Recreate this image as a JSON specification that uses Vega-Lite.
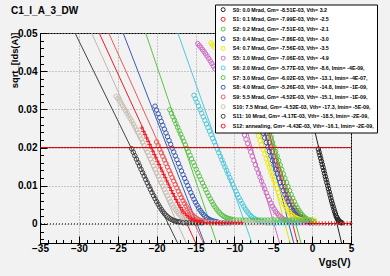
{
"$schema":"https://vega.github.io/schema/vega-lite/v6.json",
"width":311,"height":210,
"autosize":{"type":"none"},
"padding":{"left":40,"top":33,"right":39,"bottom":33},
"background":"#f2f2f2",
"title":{"text":"C1_I_A_3_DW","anchor":"start","frame":"group","dx":-29,"dy":33,"offset":13,"fontSize":10,"font":"Liberation Sans","fontWeight":"bold","color":"#000000","baseline":"alphabetic"},
"config":{"view":{"stroke":"#000000","strokeWidth":1}},
"datasets":{
"fits":[
{"k":"S0","v":-3.85,"y":0.06},{"k":"S0","v":3.905,"y":-0.006},
{"k":"S1","v":-10.009,"y":0.06},{"k":"S1","v":-1.749,"y":-0.006},
{"k":"S2","v":-10.089,"y":0.06},{"k":"S2","v":-1.301,"y":-0.006},
{"k":"S3","v":-10.634,"y":0.06},{"k":"S3","v":-2.237,"y":-0.006},
{"k":"S4","v":-11.437,"y":0.06},{"k":"S4","v":-2.706,"y":-0.006},
{"k":"S5","v":-13.399,"y":0.06},{"k":"S5","v":-4.05,"y":-0.006},
{"k":"S6","v":-18.999,"y":0.06},{"k":"S6","v":-7.56,"y":-0.006},
{"k":"S7","v":-23.067,"y":0.06},{"k":"S7","v":-12.103,"y":-0.006},
{"k":"S8","v":-26.207,"y":0.06},{"k":"S8","v":-13.659,"y":-0.006},
{"k":"S9","v":-28.374,"y":0.06},{"k":"S9","v":-13.773,"y":-0.006},
{"k":"S10","v":-30.574,"y":0.06},{"k":"S10","v":-15.973,"y":-0.006},
{"k":"S11","v":-32.888,"y":0.06},{"k":"S11","v":-17.061,"y":-0.006},
{"k":"S12","v":-29.644,"y":0.06},{"k":"S12","v":-14.746,"y":-0.006}
],
"pts":[
{"k":"S0","v":0.8,"y":0.0196},{"k":"S0","v":0.9,"y":0.0188},{"k":"S0","v":1.0,"y":0.018},{"k":"S0","v":1.1,"y":0.0172},{"k":"S0","v":1.2,"y":0.0164},{"k":"S0","v":1.3,"y":0.0156},{"k":"S0","v":1.4,"y":0.0148},{"k":"S0","v":1.5,"y":0.014},{"k":"S0","v":1.6,"y":0.0132},{"k":"S0","v":1.7,"y":0.0124},{"k":"S0","v":1.8,"y":0.0116},{"k":"S0","v":1.9,"y":0.0108},{"k":"S0","v":2.0,"y":0.01},{"k":"S0","v":2.1,"y":0.0092},{"k":"S0","v":2.2,"y":0.0084},{"k":"S0","v":2.3,"y":0.0076},{"k":"S0","v":2.4,"y":0.0068},{"k":"S0","v":2.5,"y":0.006},{"k":"S0","v":2.6,"y":0.0053},{"k":"S0","v":2.7,"y":0.0046},{"k":"S0","v":2.8,"y":0.0039},{"k":"S0","v":2.9,"y":0.0032},{"k":"S0","v":3.0,"y":0.0026},{"k":"S0","v":3.1,"y":0.002},{"k":"S0","v":3.2,"y":0.0016},{"k":"S0","v":3.3,"y":0.0012},{"k":"S0","v":3.4,"y":0.0009},{"k":"S0","v":3.5,"y":0.0007},{"k":"S0","v":3.6,"y":0.0005},{"k":"S0","v":3.7,"y":0.0004},{"k":"S0","v":3.8,"y":0.0003},
{"k":"S1","v":-6.5,"y":0.02733},{"k":"S1","v":-6.3,"y":0.02613},{"k":"S1","v":-6.1,"y":0.02493},{"k":"S1","v":-5.9,"y":0.02373},{"k":"S1","v":-5.7,"y":0.02253},{"k":"S1","v":-5.5,"y":0.02133},{"k":"S1","v":-5.3,"y":0.02014},{"k":"S1","v":-5.1,"y":0.01895},{"k":"S1","v":-4.9,"y":0.01776},{"k":"S1","v":-4.7,"y":0.01658},{"k":"S1","v":-4.5,"y":0.01541},{"k":"S1","v":-4.3,"y":0.01426},{"k":"S1","v":-4.1,"y":0.0131},{"k":"S1","v":-3.9,"y":0.01197},{"k":"S1","v":-3.7,"y":0.01086},{"k":"S1","v":-3.5,"y":0.00977},{"k":"S1","v":-3.3,"y":0.00871},{"k":"S1","v":-3.1,"y":0.0077},{"k":"S1","v":-2.9,"y":0.00673},{"k":"S1","v":-2.7,"y":0.00582},{"k":"S1","v":-2.5,"y":0.00497},{"k":"S1","v":-2.3,"y":0.00421},{"k":"S1","v":-2.1,"y":0.00353},{"k":"S1","v":-1.9,"y":0.00293},{"k":"S1","v":-1.7,"y":0.00241},{"k":"S1","v":-1.5,"y":0.00197},{"k":"S1","v":-1.3,"y":0.00162},{"k":"S1","v":-1.1,"y":0.00133},{"k":"S1","v":-0.9,"y":0.0011},{"k":"S1","v":-0.7,"y":0.00091},{"k":"S1","v":-0.5,"y":0.00077},{"k":"S1","v":-0.3,"y":0.00065},{"k":"S1","v":-0.1,"y":0.00057},
{"k":"S2","v":-6.1,"y":0.02733},{"k":"S2","v":-5.9,"y":0.02613},{"k":"S2","v":-5.7,"y":0.02493},{"k":"S2","v":-5.5,"y":0.02373},{"k":"S2","v":-5.3,"y":0.02253},{"k":"S2","v":-5.1,"y":0.02133},{"k":"S2","v":-4.9,"y":0.02014},{"k":"S2","v":-4.7,"y":0.01895},{"k":"S2","v":-4.5,"y":0.01776},{"k":"S2","v":-4.3,"y":0.01658},{"k":"S2","v":-4.1,"y":0.01541},{"k":"S2","v":-3.9,"y":0.01426},{"k":"S2","v":-3.7,"y":0.0131},{"k":"S2","v":-3.5,"y":0.01197},{"k":"S2","v":-3.3,"y":0.01086},{"k":"S2","v":-3.1,"y":0.00977},{"k":"S2","v":-2.9,"y":0.00871},{"k":"S2","v":-2.7,"y":0.0077},{"k":"S2","v":-2.5,"y":0.00673},{"k":"S2","v":-2.3,"y":0.00582},{"k":"S2","v":-2.1,"y":0.00497},{"k":"S2","v":-1.9,"y":0.00421},{"k":"S2","v":-1.7,"y":0.00353},{"k":"S2","v":-1.5,"y":0.00293},{"k":"S2","v":-1.3,"y":0.00241},{"k":"S2","v":-1.1,"y":0.00197},{"k":"S2","v":-0.9,"y":0.00162},{"k":"S2","v":-0.7,"y":0.00133},{"k":"S2","v":-0.5,"y":0.0011},{"k":"S2","v":-0.3,"y":0.00091},{"k":"S2","v":-0.1,"y":0.00077},{"k":"S2","v":0.1,"y":0.00065},{"k":"S2","v":0.3,"y":0.00057},
{"k":"S3","v":-6.9,"y":0.02733},{"k":"S3","v":-6.7,"y":0.02613},{"k":"S3","v":-6.5,"y":0.02493},{"k":"S3","v":-6.3,"y":0.02373},{"k":"S3","v":-6.1,"y":0.02253},{"k":"S3","v":-5.9,"y":0.02133},{"k":"S3","v":-5.7,"y":0.02014},{"k":"S3","v":-5.5,"y":0.01895},{"k":"S3","v":-5.3,"y":0.01776},{"k":"S3","v":-5.1,"y":0.01658},{"k":"S3","v":-4.9,"y":0.01541},{"k":"S3","v":-4.7,"y":0.01426},{"k":"S3","v":-4.5,"y":0.0131},{"k":"S3","v":-4.3,"y":0.01197},{"k":"S3","v":-4.1,"y":0.01086},{"k":"S3","v":-3.9,"y":0.00977},{"k":"S3","v":-3.7,"y":0.00871},{"k":"S3","v":-3.5,"y":0.0077},{"k":"S3","v":-3.3,"y":0.00673},{"k":"S3","v":-3.1,"y":0.00582},{"k":"S3","v":-2.9,"y":0.00497},{"k":"S3","v":-2.7,"y":0.00421},{"k":"S3","v":-2.5,"y":0.00353},{"k":"S3","v":-2.3,"y":0.00293},{"k":"S3","v":-2.1,"y":0.00241},{"k":"S3","v":-1.9,"y":0.00197},{"k":"S3","v":-1.7,"y":0.00162},{"k":"S3","v":-1.5,"y":0.00133},{"k":"S3","v":-1.3,"y":0.0011},{"k":"S3","v":-1.1,"y":0.00091},{"k":"S3","v":-0.9,"y":0.00077},{"k":"S3","v":-0.7,"y":0.00065},{"k":"S3","v":-0.5,"y":0.00057},
{"k":"S4","v":-13.0,"y":0.0474},{"k":"S4","v":-12.8,"y":0.0469},{"k":"S4","v":-12.6,"y":0.0463},
{"k":"S4","v":-7.7,"y":0.02783},{"k":"S4","v":-7.5,"y":0.02663},{"k":"S4","v":-7.3,"y":0.02543},{"k":"S4","v":-7.1,"y":0.02423},{"k":"S4","v":-6.9,"y":0.02303},{"k":"S4","v":-6.7,"y":0.02183},{"k":"S4","v":-6.5,"y":0.02064},{"k":"S4","v":-6.3,"y":0.01945},{"k":"S4","v":-6.1,"y":0.01826},{"k":"S4","v":-5.9,"y":0.01708},{"k":"S4","v":-5.7,"y":0.01591},{"k":"S4","v":-5.5,"y":0.01476},{"k":"S4","v":-5.3,"y":0.0136},{"k":"S4","v":-5.1,"y":0.01247},{"k":"S4","v":-4.9,"y":0.01136},{"k":"S4","v":-4.7,"y":0.01027},{"k":"S4","v":-4.5,"y":0.00921},{"k":"S4","v":-4.3,"y":0.0082},{"k":"S4","v":-4.1,"y":0.00723},{"k":"S4","v":-3.9,"y":0.00632},{"k":"S4","v":-3.7,"y":0.00547},{"k":"S4","v":-3.5,"y":0.00471},{"k":"S4","v":-3.3,"y":0.00403},{"k":"S4","v":-3.1,"y":0.00343},{"k":"S4","v":-2.9,"y":0.00291},{"k":"S4","v":-2.7,"y":0.00247},{"k":"S4","v":-2.5,"y":0.00212},{"k":"S4","v":-2.3,"y":0.00183},{"k":"S4","v":-2.1,"y":0.0016},{"k":"S4","v":-1.9,"y":0.00141},{"k":"S4","v":-1.7,"y":0.00127},{"k":"S4","v":-1.5,"y":0.00115},{"k":"S4","v":-1.3,"y":0.00107},{"k":"S4","v":-0.9,"y":0.001},{"k":"S4","v":-0.5,"y":0.001},{"k":"S4","v":-0.1,"y":0.001},{"k":"S4","v":0.3,"y":0.001},
{"k":"S5","v":-14.7,"y":0.04721},{"k":"S5","v":-14.5,"y":0.04672},{"k":"S5","v":-14.3,"y":0.0462},{"k":"S5","v":-14.1,"y":0.04566},{"k":"S5","v":-13.9,"y":0.04511},{"k":"S5","v":-13.7,"y":0.04453},{"k":"S5","v":-13.5,"y":0.04393},{"k":"S5","v":-13.3,"y":0.04331},{"k":"S5","v":-13.1,"y":0.04266},{"k":"S5","v":-12.9,"y":0.042},{"k":"S5","v":-12.7,"y":0.04132},{"k":"S5","v":-12.5,"y":0.04061},
{"k":"S5","v":-9.1,"y":0.02546},{"k":"S5","v":-8.9,"y":0.02439},{"k":"S5","v":-8.7,"y":0.02329},{"k":"S5","v":-8.5,"y":0.02217},{"k":"S5","v":-8.3,"y":0.02105},{"k":"S5","v":-8.1,"y":0.01993},{"k":"S5","v":-7.9,"y":0.01881},{"k":"S5","v":-7.7,"y":0.0177},{"k":"S5","v":-7.5,"y":0.0166},{"k":"S5","v":-7.3,"y":0.0155},{"k":"S5","v":-7.1,"y":0.0144},{"k":"S5","v":-6.9,"y":0.01333},{"k":"S5","v":-6.7,"y":0.01225},{"k":"S5","v":-6.5,"y":0.01119},{"k":"S5","v":-6.3,"y":0.01016},{"k":"S5","v":-6.1,"y":0.00914},{"k":"S5","v":-5.9,"y":0.00815},{"k":"S5","v":-5.7,"y":0.0072},{"k":"S5","v":-5.5,"y":0.0063},{"k":"S5","v":-5.3,"y":0.00545},{"k":"S5","v":-5.1,"y":0.00466},{"k":"S5","v":-4.9,"y":0.00395},{"k":"S5","v":-4.7,"y":0.00331},{"k":"S5","v":-4.5,"y":0.00275},{"k":"S5","v":-4.3,"y":0.00227},{"k":"S5","v":-4.1,"y":0.00186},{"k":"S5","v":-3.9,"y":0.00153},{"k":"S5","v":-3.7,"y":0.00126},{"k":"S5","v":-3.5,"y":0.00104},{"k":"S5","v":-3.3,"y":0.00087},{"k":"S5","v":-3.1,"y":0.00074},{"k":"S5","v":-2.9,"y":0.00063},{"k":"S5","v":-2.7,"y":0.00055},{"k":"S5","v":-2.3,"y":0.0004},{"k":"S5","v":-1.9,"y":0.0004},{"k":"S5","v":-1.5,"y":0.0003},{"k":"S5","v":-1.1,"y":0.0003},{"k":"S5","v":-0.7,"y":0.0003},{"k":"S5","v":-0.3,"y":0.0003},
{"k":"S6","v":-15.2,"y":0.03369},{"k":"S6","v":-15.0,"y":0.03275},{"k":"S6","v":-14.8,"y":0.03181},{"k":"S6","v":-14.6,"y":0.03087},{"k":"S6","v":-14.4,"y":0.02993},{"k":"S6","v":-14.2,"y":0.02899},{"k":"S6","v":-14.0,"y":0.02805},{"k":"S6","v":-13.8,"y":0.02711},{"k":"S6","v":-13.6,"y":0.02617},{"k":"S6","v":-13.4,"y":0.02523},{"k":"S6","v":-13.2,"y":0.02429},{"k":"S6","v":-13.0,"y":0.02335},{"k":"S6","v":-12.8,"y":0.02241},{"k":"S6","v":-12.6,"y":0.02147},{"k":"S6","v":-12.4,"y":0.02053},{"k":"S6","v":-12.2,"y":0.01959},{"k":"S6","v":-12.0,"y":0.01865},{"k":"S6","v":-11.8,"y":0.01771},{"k":"S6","v":-11.6,"y":0.01677},{"k":"S6","v":-11.4,"y":0.01584},{"k":"S6","v":-11.2,"y":0.01491},{"k":"S6","v":-11.0,"y":0.01398},{"k":"S6","v":-10.8,"y":0.01306},{"k":"S6","v":-10.6,"y":0.01213},{"k":"S6","v":-10.4,"y":0.01123},{"k":"S6","v":-10.2,"y":0.01033},{"k":"S6","v":-10.0,"y":0.00944},{"k":"S6","v":-9.8,"y":0.00857},{"k":"S6","v":-9.6,"y":0.00772},{"k":"S6","v":-9.4,"y":0.00689},{"k":"S6","v":-9.2,"y":0.0061},{"k":"S6","v":-9.0,"y":0.00534},{"k":"S6","v":-8.8,"y":0.00462},{"k":"S6","v":-8.6,"y":0.00396},{"k":"S6","v":-8.4,"y":0.00336},{"k":"S6","v":-8.2,"y":0.00283},{"k":"S6","v":-8.0,"y":0.00236},{"k":"S6","v":-7.8,"y":0.00195},{"k":"S6","v":-7.6,"y":0.00161},{"k":"S6","v":-7.4,"y":0.00133},{"k":"S6","v":-7.2,"y":0.0011},{"k":"S6","v":-7.0,"y":0.00093},{"k":"S6","v":-6.8,"y":0.00078},{"k":"S6","v":-6.6,"y":0.00067},{"k":"S6","v":-6.4,"y":0.00058},{"k":"S6","v":-6.2,"y":0.00051},{"k":"S6","v":-5.8,"y":0.0003},{"k":"S6","v":-5.4,"y":0.0003},{"k":"S6","v":-5.0,"y":0.0003},{"k":"S6","v":-4.6,"y":0.0003},{"k":"S6","v":-4.2,"y":0.0003},{"k":"S6","v":-3.8,"y":0.0003},{"k":"S6","v":-3.4,"y":0.0003},{"k":"S6","v":-3.0,"y":0.0003},{"k":"S6","v":-2.6,"y":0.0003},{"k":"S6","v":-2.2,"y":0.0003},{"k":"S6","v":-1.8,"y":0.0003},
{"k":"S7","v":-18.3,"y":0.0299},{"k":"S7","v":-18.1,"y":0.02898},{"k":"S7","v":-17.9,"y":0.02806},{"k":"S7","v":-17.7,"y":0.02714},{"k":"S7","v":-17.5,"y":0.02622},{"k":"S7","v":-17.3,"y":0.0253},{"k":"S7","v":-17.1,"y":0.02438},{"k":"S7","v":-16.9,"y":0.02346},{"k":"S7","v":-16.7,"y":0.02254},{"k":"S7","v":-16.5,"y":0.02162},{"k":"S7","v":-16.3,"y":0.0207},{"k":"S7","v":-16.1,"y":0.01978},{"k":"S7","v":-15.9,"y":0.01886},{"k":"S7","v":-15.7,"y":0.01794},{"k":"S7","v":-15.5,"y":0.01702},{"k":"S7","v":-15.3,"y":0.01611},{"k":"S7","v":-15.1,"y":0.0152},{"k":"S7","v":-14.9,"y":0.01429},{"k":"S7","v":-14.7,"y":0.01338},{"k":"S7","v":-14.5,"y":0.01248},{"k":"S7","v":-14.3,"y":0.0116},{"k":"S7","v":-14.1,"y":0.01072},{"k":"S7","v":-13.9,"y":0.00985},{"k":"S7","v":-13.7,"y":0.009},{"k":"S7","v":-13.5,"y":0.00816},{"k":"S7","v":-13.3,"y":0.00735},{"k":"S7","v":-13.1,"y":0.00657},{"k":"S7","v":-12.9,"y":0.00583},{"k":"S7","v":-12.7,"y":0.00513},{"k":"S7","v":-12.5,"y":0.00448},{"k":"S7","v":-12.3,"y":0.0039},{"k":"S7","v":-12.1,"y":0.00337},{"k":"S7","v":-11.9,"y":0.00291},{"k":"S7","v":-11.7,"y":0.00252},{"k":"S7","v":-11.5,"y":0.00218},{"k":"S7","v":-11.3,"y":0.00191},{"k":"S7","v":-11.1,"y":0.00169},{"k":"S7","v":-10.9,"y":0.00151},{"k":"S7","v":-10.7,"y":0.00137},{"k":"S7","v":-10.5,"y":0.00126},{"k":"S7","v":-10.3,"y":0.00117},{"k":"S7","v":-10.1,"y":0.00111},{"k":"S7","v":-9.7,"y":0.001},{"k":"S7","v":-9.3,"y":0.001},{"k":"S7","v":-8.9,"y":0.001},{"k":"S7","v":-8.5,"y":0.001},{"k":"S7","v":-8.1,"y":0.001},{"k":"S7","v":-7.7,"y":0.001},{"k":"S7","v":-7.3,"y":0.001},{"k":"S7","v":-6.9,"y":0.001},{"k":"S7","v":-6.5,"y":0.001},{"k":"S7","v":-6.1,"y":0.001},{"k":"S7","v":-5.7,"y":0.001},{"k":"S7","v":-5.3,"y":0.001},{"k":"S7","v":-4.9,"y":0.001},{"k":"S7","v":-4.5,"y":0.001},{"k":"S7","v":-4.1,"y":0.001},{"k":"S7","v":-3.7,"y":0.001},{"k":"S7","v":-3.3,"y":0.001},{"k":"S7","v":-2.9,"y":0.001},{"k":"S7","v":-2.5,"y":0.001},{"k":"S7","v":-2.1,"y":0.001},{"k":"S7","v":-1.7,"y":0.001},{"k":"S7","v":-1.3,"y":0.001},{"k":"S7","v":-0.9,"y":0.001},{"k":"S7","v":-0.5,"y":0.001},{"k":"S7","v":-0.1,"y":0.001},
{"k":"S8","v":-20.2,"y":0.03083},{"k":"S8","v":-20.0,"y":0.02983},{"k":"S8","v":-19.8,"y":0.02883},{"k":"S8","v":-19.6,"y":0.02783},{"k":"S8","v":-19.4,"y":0.02683},{"k":"S8","v":-19.2,"y":0.02583},{"k":"S8","v":-19.0,"y":0.02483},{"k":"S8","v":-18.8,"y":0.02383},{"k":"S8","v":-18.6,"y":0.02283},{"k":"S8","v":-18.4,"y":0.02183},{"k":"S8","v":-18.2,"y":0.02083},{"k":"S8","v":-18.0,"y":0.01983},{"k":"S8","v":-17.8,"y":0.01883},{"k":"S8","v":-17.6,"y":0.01783},{"k":"S8","v":-17.4,"y":0.01683},{"k":"S8","v":-17.2,"y":0.01584},{"k":"S8","v":-17.0,"y":0.01485},{"k":"S8","v":-16.8,"y":0.01387},{"k":"S8","v":-16.6,"y":0.01289},{"k":"S8","v":-16.4,"y":0.01193},{"k":"S8","v":-16.2,"y":0.01097},{"k":"S8","v":-16.0,"y":0.01003},{"k":"S8","v":-15.8,"y":0.0091},{"k":"S8","v":-15.6,"y":0.00819},{"k":"S8","v":-15.4,"y":0.00731},{"k":"S8","v":-15.2,"y":0.00647},{"k":"S8","v":-15.0,"y":0.00566},{"k":"S8","v":-14.8,"y":0.0049},{"k":"S8","v":-14.6,"y":0.0042},{"k":"S8","v":-14.4,"y":0.00356},{"k":"S8","v":-14.2,"y":0.00299},{"k":"S8","v":-14.0,"y":0.00249},{"k":"S8","v":-13.8,"y":0.00206},{"k":"S8","v":-13.6,"y":0.0017},{"k":"S8","v":-13.4,"y":0.0014},{"k":"S8","v":-13.2,"y":0.00116},{"k":"S8","v":-13.0,"y":0.00097},{"k":"S8","v":-12.8,"y":0.00081},{"k":"S8","v":-12.6,"y":0.00069},{"k":"S8","v":-12.4,"y":0.0006},{"k":"S8","v":-12.2,"y":0.00053},{"k":"S8","v":-11.8,"y":0.0003},{"k":"S8","v":-11.4,"y":0.0003},{"k":"S8","v":-11.0,"y":0.0003},{"k":"S8","v":-10.6,"y":0.0003},
{"k":"S9","v":-20.0,"y":0.02147},{"k":"S9","v":-19.8,"y":0.02053},{"k":"S9","v":-19.6,"y":0.01959},{"k":"S9","v":-19.4,"y":0.01865},{"k":"S9","v":-19.2,"y":0.01771},{"k":"S9","v":-19.0,"y":0.01677},{"k":"S9","v":-18.8,"y":0.01584},{"k":"S9","v":-18.6,"y":0.01491},{"k":"S9","v":-18.4,"y":0.01398},{"k":"S9","v":-18.2,"y":0.01306},{"k":"S9","v":-18.0,"y":0.01213},{"k":"S9","v":-17.8,"y":0.01123},{"k":"S9","v":-17.6,"y":0.01033},{"k":"S9","v":-17.4,"y":0.00944},{"k":"S9","v":-17.2,"y":0.00857},{"k":"S9","v":-17.0,"y":0.00772},{"k":"S9","v":-16.8,"y":0.00689},{"k":"S9","v":-16.6,"y":0.0061},{"k":"S9","v":-16.4,"y":0.00534},{"k":"S9","v":-16.2,"y":0.00462},{"k":"S9","v":-16.0,"y":0.00396},{"k":"S9","v":-15.8,"y":0.00336},{"k":"S9","v":-15.6,"y":0.00283},{"k":"S9","v":-15.4,"y":0.00236},{"k":"S9","v":-15.2,"y":0.00195},{"k":"S9","v":-15.0,"y":0.00161},{"k":"S9","v":-14.8,"y":0.00133},{"k":"S9","v":-14.6,"y":0.0011},{"k":"S9","v":-14.4,"y":0.00093},{"k":"S9","v":-14.2,"y":0.00078},{"k":"S9","v":-14.0,"y":0.00067},{"k":"S9","v":-13.8,"y":0.00058},{"k":"S9","v":-13.6,"y":0.00051},{"k":"S9","v":-13.2,"y":0.0003},{"k":"S9","v":-12.8,"y":0.0003},{"k":"S9","v":-12.4,"y":0.0003},{"k":"S9","v":-12.0,"y":0.0003},{"k":"S9","v":-11.6,"y":0.0003},
{"k":"S10","v":-25.2,"y":0.03341},{"k":"S10","v":-25.0,"y":0.03283},{"k":"S10","v":-24.8,"y":0.03223},{"k":"S10","v":-24.6,"y":0.03162},{"k":"S10","v":-24.4,"y":0.03099},{"k":"S10","v":-24.2,"y":0.03035},{"k":"S10","v":-24.0,"y":0.02969},{"k":"S10","v":-23.8,"y":0.02901},{"k":"S10","v":-23.6,"y":0.02832},{"k":"S10","v":-23.4,"y":0.02761},{"k":"S10","v":-23.2,"y":0.02689},{"k":"S10","v":-23.0,"y":0.02615},{"k":"S10","v":-22.8,"y":0.02539},{"k":"S10","v":-22.6,"y":0.02462},{"k":"S10","v":-22.4,"y":0.02383},{"k":"S10","v":-22.2,"y":0.02303},{"k":"S10","v":-22.0,"y":0.02221},{"k":"S10","v":-21.8,"y":0.02137},{"k":"S10","v":-21.6,"y":0.02052},{"k":"S10","v":-21.4,"y":0.01965},{"k":"S10","v":-21.2,"y":0.01877},{"k":"S10","v":-21.0,"y":0.01787},{"k":"S10","v":-20.8,"y":0.01697},{"k":"S10","v":-20.6,"y":0.01607},{"k":"S10","v":-20.4,"y":0.01518},{"k":"S10","v":-20.2,"y":0.01429},{"k":"S10","v":-20.0,"y":0.0134},{"k":"S10","v":-19.8,"y":0.01251},{"k":"S10","v":-19.6,"y":0.01163},{"k":"S10","v":-19.4,"y":0.01077},{"k":"S10","v":-19.2,"y":0.0099},{"k":"S10","v":-19.0,"y":0.00905},{"k":"S10","v":-18.8,"y":0.00822},{"k":"S10","v":-18.6,"y":0.0074},{"k":"S10","v":-18.4,"y":0.00661},{"k":"S10","v":-18.2,"y":0.00585},{"k":"S10","v":-18.0,"y":0.00512},{"k":"S10","v":-17.8,"y":0.00444},{"k":"S10","v":-17.6,"y":0.00381},{"k":"S10","v":-17.4,"y":0.00323},{"k":"S10","v":-17.2,"y":0.00272},{"k":"S10","v":-17.0,"y":0.00227},{"k":"S10","v":-16.8,"y":0.00188},{"k":"S10","v":-16.6,"y":0.00156},{"k":"S10","v":-16.4,"y":0.00129},{"k":"S10","v":-16.2,"y":0.00107},{"k":"S10","v":-16.0,"y":0.0009},{"k":"S10","v":-15.8,"y":0.00076},{"k":"S10","v":-15.6,"y":0.00065},{"k":"S10","v":-15.4,"y":0.00057},{"k":"S10","v":-15.2,"y":0.0005},{"k":"S10","v":-14.8,"y":0.0003},{"k":"S10","v":-14.4,"y":0.0003},{"k":"S10","v":-14.0,"y":0.0003},{"k":"S10","v":-13.6,"y":0.0003},{"k":"S10","v":-13.2,"y":0.0003},{"k":"S10","v":-12.8,"y":0.0003},{"k":"S10","v":-12.4,"y":0.0003},{"k":"S10","v":-12.0,"y":0.0003},{"k":"S10","v":-11.6,"y":0.0003},{"k":"S10","v":-11.2,"y":0.0003},{"k":"S10","v":-10.8,"y":0.0003},{"k":"S10","v":-10.4,"y":0.0003},{"k":"S10","v":-10.0,"y":0.0003},{"k":"S10","v":-9.6,"y":0.0003},{"k":"S10","v":-9.2,"y":0.0003},{"k":"S10","v":-8.8,"y":0.0003},{"k":"S10","v":-8.4,"y":0.0003},{"k":"S10","v":-8.0,"y":0.0003},{"k":"S10","v":-7.6,"y":0.0003},{"k":"S10","v":-7.2,"y":0.0003},{"k":"S10","v":-6.8,"y":0.0003},{"k":"S10","v":-6.4,"y":0.0003},{"k":"S10","v":-6.0,"y":0.0003},{"k":"S10","v":-5.6,"y":0.0003},{"k":"S10","v":-5.2,"y":0.0003},
{"k":"S11","v":-23.2,"y":0.01967},{"k":"S11","v":-23.0,"y":0.01877},{"k":"S11","v":-22.8,"y":0.01787},{"k":"S11","v":-22.6,"y":0.01697},{"k":"S11","v":-22.4,"y":0.01607},{"k":"S11","v":-22.2,"y":0.01518},{"k":"S11","v":-22.0,"y":0.01429},{"k":"S11","v":-21.8,"y":0.0134},{"k":"S11","v":-21.6,"y":0.01251},{"k":"S11","v":-21.4,"y":0.01163},{"k":"S11","v":-21.2,"y":0.01077},{"k":"S11","v":-21.0,"y":0.0099},{"k":"S11","v":-20.8,"y":0.00905},{"k":"S11","v":-20.6,"y":0.00822},{"k":"S11","v":-20.4,"y":0.0074},{"k":"S11","v":-20.2,"y":0.00661},{"k":"S11","v":-20.0,"y":0.00585},{"k":"S11","v":-19.8,"y":0.00512},{"k":"S11","v":-19.6,"y":0.00444},{"k":"S11","v":-19.4,"y":0.00381},{"k":"S11","v":-19.2,"y":0.00323},{"k":"S11","v":-19.0,"y":0.00272},{"k":"S11","v":-18.8,"y":0.00227},{"k":"S11","v":-18.6,"y":0.00188},{"k":"S11","v":-18.4,"y":0.00156},{"k":"S11","v":-18.2,"y":0.00129},{"k":"S11","v":-18.0,"y":0.00107},{"k":"S11","v":-17.8,"y":0.0009},{"k":"S11","v":-17.6,"y":0.00076},{"k":"S11","v":-17.4,"y":0.00065},{"k":"S11","v":-17.2,"y":0.00057},{"k":"S11","v":-17.0,"y":0.0005},{"k":"S11","v":-16.6,"y":0.0003},{"k":"S11","v":-16.2,"y":0.0003},{"k":"S11","v":-15.8,"y":0.0003},{"k":"S11","v":-15.4,"y":0.0003},{"k":"S11","v":-15.0,"y":0.0003},{"k":"S11","v":-14.6,"y":0.0003},{"k":"S11","v":-14.2,"y":0.0003},
{"k":"S12","v":-21.9,"y":0.02512},{"k":"S12","v":-21.7,"y":0.02425},{"k":"S12","v":-21.5,"y":0.02338},{"k":"S12","v":-21.3,"y":0.02251},{"k":"S12","v":-21.1,"y":0.02164},{"k":"S12","v":-20.9,"y":0.02077},{"k":"S12","v":-20.7,"y":0.0199},{"k":"S12","v":-20.5,"y":0.01903},{"k":"S12","v":-20.3,"y":0.01816},{"k":"S12","v":-20.1,"y":0.01729},{"k":"S12","v":-19.9,"y":0.01642},{"k":"S12","v":-19.7,"y":0.01555},{"k":"S12","v":-19.5,"y":0.01468},{"k":"S12","v":-19.3,"y":0.01382},{"k":"S12","v":-19.1,"y":0.01296},{"k":"S12","v":-18.9,"y":0.01211},{"k":"S12","v":-18.7,"y":0.01125},{"k":"S12","v":-18.5,"y":0.01042},{"k":"S12","v":-18.3,"y":0.00958},{"k":"S12","v":-18.1,"y":0.00876},{"k":"S12","v":-17.9,"y":0.00796},{"k":"S12","v":-17.7,"y":0.00716},{"k":"S12","v":-17.5,"y":0.0064},{"k":"S12","v":-17.3,"y":0.00566},{"k":"S12","v":-17.1,"y":0.00496},{"k":"S12","v":-16.9,"y":0.0043},{"k":"S12","v":-16.7,"y":0.00369},{"k":"S12","v":-16.5,"y":0.00314},{"k":"S12","v":-16.3,"y":0.00264},{"k":"S12","v":-16.1,"y":0.00221},{"k":"S12","v":-15.9,"y":0.00183},{"k":"S12","v":-15.7,"y":0.00151},{"k":"S12","v":-15.5,"y":0.00126},{"k":"S12","v":-15.3,"y":0.00104},{"k":"S12","v":-15.1,"y":0.00088},{"k":"S12","v":-14.9,"y":0.00074},{"k":"S12","v":-14.7,"y":0.00064},{"k":"S12","v":-14.5,"y":0.00056},{"k":"S12","v":-14.3,"y":0.0005},{"k":"S12","v":-13.9,"y":0.0003},{"k":"S12","v":-13.5,"y":0.0003},{"k":"S12","v":-13.1,"y":0.0003},{"k":"S12","v":-12.7,"y":0.0003},{"k":"S12","v":-12.3,"y":0.0003},{"k":"S12","v":-11.9,"y":0.0003},{"k":"S12","v":-11.5,"y":0.0003},{"k":"S12","v":-11.1,"y":0.0003},{"k":"S12","v":-10.7,"y":0.0003},{"k":"S12","v":-10.3,"y":0.0003},{"k":"S12","v":-9.9,"y":0.0003},{"k":"S12","v":-9.5,"y":0.0003},{"k":"S12","v":-9.1,"y":0.0003},
{"k":"S12","v":-0.3,"y":0.0001},{"k":"S12","v":0.1,"y":0.0001},{"k":"S12","v":0.5,"y":0.0001},{"k":"S12","v":0.9,"y":0.0001},{"k":"S12","v":1.3,"y":0.0001},{"k":"S12","v":1.7,"y":0.0001},{"k":"S12","v":2.1,"y":0.0001},{"k":"S12","v":2.5,"y":0.0001},{"k":"S12","v":2.9,"y":0.0001},{"k":"S12","v":3.3,"y":0.0001},{"k":"S12","v":3.7,"y":0.0001},{"k":"S12","v":4.1,"y":0.0001},{"k":"S12","v":4.5,"y":0.0001},{"k":"S12","v":4.9,"y":0.0001}
]
},
"layer":[
{"data":{"name":"fits"},
 "mark":{"type":"line","strokeWidth":1,"clip":true},
 "encoding":{
  "x":{"field":"v","type":"quantitative","scale":{"domain":[-35,5],"nice":false,"zero":false},
   "axis":{"orient":"bottom","values":[-35,-34,-33,-32,-31,-30,-29,-28,-27,-26,-25,-24,-23,-22,-21,-20,-19,-18,-17,-16,-15,-14,-13,-12,-11,-10,-9,-8,-7,-6,-5,-4,-3,-2,-1,0,1,2,3,4,5],"tickSize":-3.5,"tickColor":"#000000","labels":false,"domain":false,"grid":false,"title":null}},
  "y":{"field":"y","type":"quantitative","scale":{"domain":[-0.005,0.05],"nice":false,"zero":false},
   "axis":{"orient":"left","values":[-0.004,-0.002,0,0.002,0.004,0.006,0.008,0.01,0.012,0.014,0.016,0.018,0.02,0.022,0.024,0.026,0.028,0.03,0.032,0.034,0.036,0.038,0.04,0.042,0.044,0.046,0.048,0.05],"tickSize":-3.5,"tickColor":"#000000","labels":false,"domain":false,"grid":false,"title":null}},
  "color":{"field":"k","type":"nominal","scale":{"domain":["S0","S1","S2","S3","S4","S5","S6","S7","S8","S9","S10","S11","S12"],"range":["#222222","#e8262b","#4fc43b","#2e5db5","#e8e000","#cc6cc4","#4fc8dc","#5cc24a","#3a5cb3","#ee5a5a","#c4b8ac","#444444","#ee1c24"]},"legend":null},
  "detail":{"field":"k"}
 }},
{"data":{"name":"pts"},
 "mark":{"type":"point","filled":false,"size":20,"strokeWidth":1,"opacity":1},
 "encoding":{
  "x":{"field":"v","type":"quantitative","scale":{"domain":[-35,5],"nice":false,"zero":false},
   "axis":{"orient":"bottom","values":[-35,-30,-25,-20,-15,-10,-5,0,5],"tickSize":-7,"tickColor":"#000000","domainColor":"#000000","labelFont":"Liberation Sans","labelFontWeight":"bold","labelFontSize":10,"labelColor":"#000000","labelPadding":7,"labelFlush":false,"labelOverlap":false,"grid":true,"gridDash":[1,2],"gridColor":"#9a9a9a","gridOpacity":1,"title":"Vgs(V)","titleFont":"Liberation Sans","titleFontWeight":"bold","titleFontSize":10,"titleColor":"#000000","titleAlign":"right","titleX":310,"titleY":22,"titleBaseline":"alphabetic"}},
  "y":{"field":"y","type":"quantitative","scale":{"domain":[-0.005,0.05],"nice":false,"zero":false},
   "axis":{"orient":"left","values":[0,0.01,0.02,0.03,0.04,0.05],"format":".2~f","tickSize":-7,"tickColor":"#000000","domainColor":"#000000","labelFont":"Liberation Sans","labelFontWeight":"bold","labelFontSize":10,"labelColor":"#000000","labelPadding":10,"labelFlush":false,"labelOverlap":false,"grid":true,"gridDash":[1,2],"gridColor":"#9a9a9a","gridOpacity":1,"title":"sqrt_[Ids(A)]","titleFont":"Liberation Sans","titleFontWeight":"bold","titleFontSize":9.4,"titleColor":"#000000","titleAngle":270,"titleAlign":"right","titleX":-25.5,"titleY":-1,"titleBaseline":"middle"}},
  "color":{"field":"k","type":"nominal","scale":{"domain":["S0","S1","S2","S3","S4","S5","S6","S7","S8","S9","S10","S11","S12"],"range":["#222222","#e8262b","#4fc43b","#2e5db5","#f0ea00","#cc6cc4","#4fc8dc","#5cc24a","#3a5cb3","#ee5a5a","#cbbfb4","#444444","#ee1c24"]},
   "legend":{"orient":"none","legendX":175,"legendY":-28.5,"direction":"vertical","title":null,"fillColor":"#ffffff","strokeColor":"#000000","padding":2.5,"symbolSize":16,"symbolStrokeWidth":1,"symbolOffset":3,"labelOffset":7,"labelFont":"Liberation Sans","labelFontWeight":"bold","labelFontSize":5.3,"labelColor":"#000000","labelLimit":400,"rowPadding":3.7,"clipHeight":5.3,
    "encode":{"symbols":{"update":{"shape":{"signal":"datum.value==='S12'?'M-1,0H1M0,-1V1':'circle'"}}}},
    "labelExpr":"datum.label=='S0'?'S0: 0.0 Mrad, Gm= -8.51E-03, Vth= 3.2':datum.label=='S1'?'S1: 0.1 Mrad, Gm= -7.99E-03, Vth= -2.5':datum.label=='S2'?'S2: 0.2 Mrad, Gm= -7.51E-03, Vth= -2.1':datum.label=='S3'?'S3: 0.4 Mrad, Gm= -7.86E-03, Vth= -3.0':datum.label=='S4'?'S4: 0.7 Mrad, Gm= -7.56E-03, Vth= -3.5':datum.label=='S5'?'S5: 1.0 Mrad, Gm= -7.06E-03, Vth= -4.9':datum.label=='S6'?'S6: 2.0 Mrad, Gm= -5.77E-03, Vth= -8.6, Imin= -4E-09,':datum.label=='S7'?'S7: 3.0 Mrad, Gm= -6.02E-03, Vth= -13.1, Imin= -4E-07,':datum.label=='S8'?'S8: 4.0 Mrad, Gm= -5.26E-03, Vth= -14.8, Imin= -1E-09,':datum.label=='S9'?'S9: 5.5 Mrad, Gm= -4.52E-03, Vth= -15.1, Imin= -1E-09,':datum.label=='S10'?'S10: 7.5 Mrad, Gm= -4.52E-03, Vth= -17.3, Imin= -5E-09,':datum.label=='S11'?'S11: 10 Mrad, Gm= -4.17E-03, Vth= -18.5, Imin= -2E-09,':'S12: annealing, Gm= -4.43E-03, Vth= -16.1, Imin= -2E-09,'"}},
  "shape":{"field":"k","type":"nominal","scale":{"domain":["S0","S1","S2","S3","S4","S5","S6","S7","S8","S9","S10","S11","S12"],"range":["circle","circle","circle","circle","circle","circle","circle","circle","circle","circle","circle","circle","M-1,0H1M0,-1V1"]},"legend":null}
 }},
{"data":{"values":[{"y":0.02}]},
 "mark":{"type":"rule","color":"#dd0000","strokeWidth":1},
 "encoding":{"y":{"field":"y","type":"quantitative","scale":{"domain":[-0.005,0.05],"nice":false,"zero":false},"axis":null}}},
{"data":{"values":[{"y":0}]},
 "mark":{"type":"rule","color":"#000000","strokeWidth":1,"strokeDash":[1,2]},
 "encoding":{"y":{"field":"y","type":"quantitative","scale":{"domain":[-0.005,0.05],"nice":false,"zero":false},"axis":null}}}
],
"resolve":{"scale":{"color":"independent"},"axis":{"x":"independent","y":"independent"},"legend":{"color":"independent"}}
}
